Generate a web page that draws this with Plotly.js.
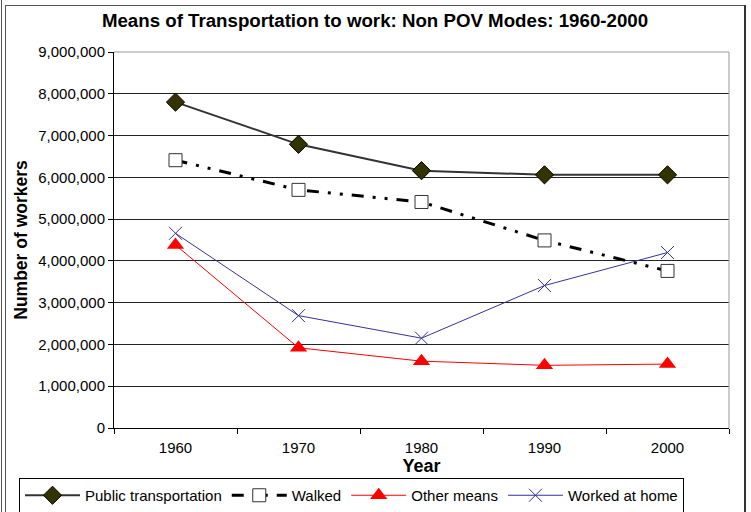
<!DOCTYPE html>
<html>
<head>
<meta charset="utf-8">
<script src="https://cdn.plot.ly/plotly-3.0.1.min.js"></script>
<style>
html,body{margin:0;padding:0;background:#fff;}
#chart{width:751px;height:512px;}
</style>
</head>
<body>
<div id="chart"></div>
<script>
const years = ["1960", "1970", "1980", "1990", "2000"];
const publicTransportation = [7800000, 6790000, 6160000, 6060000, 6060000];
const walked = [6410000, 5700000, 5410000, 4490000, 3760000];
const otherMeans = [4380000, 1920000, 1600000, 1500000, 1530000];
const workedAtHome = [4660000, 2690000, 2150000, 3410000, 4200000];
const seriesNames = ["Public transportation", "Walked", "Other means", "Worked at home"];
const yTickVals = [0,1000000,2000000,3000000,4000000,5000000,6000000,7000000,8000000,9000000];

const L = 114, R = 729, T = 52, B = 428;
const W = R - L, H = B - T;
const px = x => (x - L) / W;
const py = y => (B - y) / H;

const traces = [
  {x: years, y: publicTransportation, name: seriesNames[0], type: 'scatter', mode: 'lines+markers',
   line: {color: '#333333', width: 2},
   marker: {symbol: 'diamond', size: 14, color: '#333300', line: {color: '#000000', width: 1}}},
  {x: years, y: walked, name: seriesNames[1], type: 'scatter', mode: 'lines+markers',
   line: {color: '#000000', width: 3, dash: '12px,9px,3px,9px,3px,9px'},
   marker: {symbol: 'square', size: 13, color: '#ffffff', line: {color: '#333333', width: 1}}},
  {x: years, y: otherMeans, name: seriesNames[2], type: 'scatter', mode: 'lines+markers',
   line: {color: '#ff0000', width: 1},
   marker: {symbol: 'triangle-up', size: 15, color: '#ff0000', line: {color: '#ff0000', width: 0}}},
  {x: years, y: workedAtHome, name: seriesNames[3], type: 'scatter', mode: 'lines+markers',
   line: {color: '#333399', width: 1},
   marker: {symbol: 'x-thin-open', size: 13, color: '#333399', line: {color: '#333399', width: 1}}}
];

const layout = {
  width: 751, height: 512,
  margin: {l: L, r: 751 - R, t: T, b: 512 - B, pad: 0, autoexpand: false},
  paper_bgcolor: '#ffffff', plot_bgcolor: '#ffffff',
  font: {family: 'Liberation Sans, Arial, sans-serif', size: 15, color: '#000000'},
  title: {text: '<b>Means of Transportation to work: Non POV Modes: 1960-2000</b>',
          font: {size: 18.7, family: 'Liberation Sans, Arial, sans-serif', color: '#000'},
          x: 375/751, xref: 'container', xanchor: 'center',
          y: 1 - 20/512, yref: 'container', yanchor: 'middle'},
  showlegend: true,
  legend: {orientation: 'h', x: px(19), y: py(478), xanchor: 'left', yanchor: 'top',
           bordercolor: '#000000', borderwidth: 1, bgcolor: '#ffffff',
           font: {size: 15}, itemwidth: 55, tracegroupgap: 0, traceorder: 'normal'},
  xaxis: {type: 'category', range: [-0.5, 4.5], tickson: 'boundaries', ticks: 'outside', ticklen: 5, tickcolor: '#000',
          showline: true, linecolor: '#000', linewidth: 1, showgrid: false, zeroline: false,
          tickfont: {size: 15}, fixedrange: true, ticklabelstandoff: 6,
          title: {text: '<b>Year</b>', font: {size: 18}, standoff: 4}},
  yaxis: {range: [0, 9000000], tickvals: yTickVals, tickformat: ',d', ticks: 'outside', ticklen: 5,
          tickcolor: '#000', showline: true, linecolor: '#000', linewidth: 1,
          showgrid: true, gridcolor: '#222222', gridwidth: 1, zeroline: false,
          tickfont: {size: 15}, fixedrange: true,
          title: {text: '<b>Number of workers</b>', font: {size: 17.5}, standoff: 6}},
  shapes: [
    {type: 'line', xref: 'paper', yref: 'paper', x0: 0, x1: 1, y0: 1, y1: 1, line: {color: '#999999', width: 1}},
    {type: 'line', xref: 'paper', yref: 'paper', x0: 1, x1: 1, y0: 0, y1: 1, line: {color: '#999999', width: 1}},
    {type: 'line', xref: 'paper', yref: 'paper', x0: px(1.5), x1: px(1.5), y0: py(0), y1: py(512), line: {color: '#555555', width: 1}},
    {type: 'line', xref: 'paper', yref: 'paper', x0: px(5.5), x1: px(5.5), y0: py(5), y1: py(512), line: {color: '#555555', width: 1}},
    {type: 'line', xref: 'paper', yref: 'paper', x0: px(5.5), x1: px(745), y0: py(5.5), y1: py(5.5), line: {color: '#555555', width: 1}},
    {type: 'line', xref: 'paper', yref: 'paper', x0: px(745), x1: px(745), y0: py(5), y1: py(512), line: {color: '#333333', width: 2}}
  ]
};

Plotly.newPlot('chart', traces, layout, {displayModeBar: false, staticPlot: true});
</script>
</body>
</html>
